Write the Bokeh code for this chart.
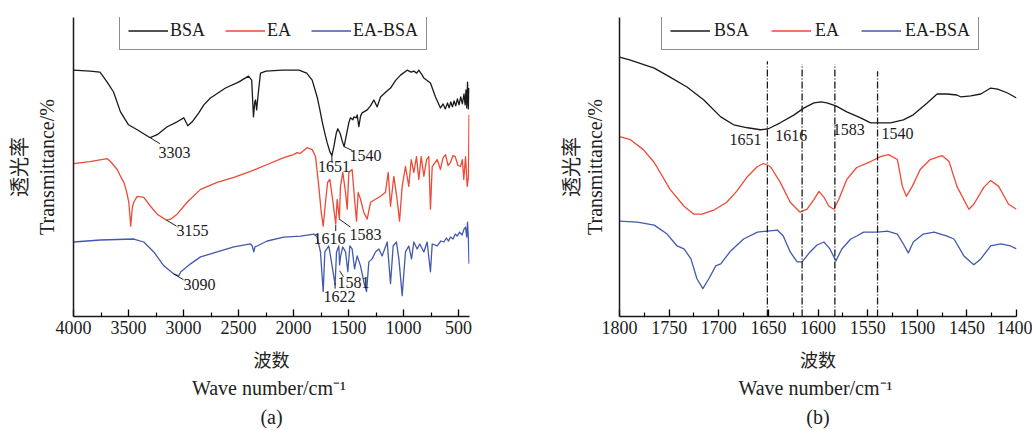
from bokeh.plotting import figure
from bokeh.models import Range1d, FixedTicker, LinearAxis, Legend, LegendItem
from bokeh.layouts import row
from bokeh.embed import file_html
from bokeh.resources import INLINE
from bokeh.core.properties import value

SERIF = "Liberation Serif"
CJK = "Noto Sans CJK SC"
BLACK = "#1a1a1a"
RED = "#ee4a36"
BLUE = "#4359ad"
TXT = "#222222"

# ---------------- panel (a): full spectra ----------------
bsa_a_wn = [4000, 3850, 3760, 3739, 3694, 3636, 3573, 3500, 3421, 3303, 3239, 3148, 3058, 2997, 2961, 2921, 2861, 2815, 2755, 2618, 2500, 2409, 2380, 2364, 2352, 2345, 2335, 2320, 2300, 2250, 2100, 1950, 1880, 1830, 1785, 1760, 1739, 1710, 1694, 1670, 1651, 1633, 1610, 1597, 1575, 1558, 1540, 1515, 1497, 1482, 1460, 1452, 1430, 1421, 1406, 1390, 1376, 1330, 1300, 1270, 1239, 1209, 1160, 1118, 1070, 1027, 967, 930, 906, 880, 861, 830, 815, 755, 709, 664, 640, 620, 600, 585, 570, 555, 540, 525, 510, 495, 480, 465, 450, 440, 432, 425, 418, 410, 404]
bsa_a_t = [248, 247, 246, 243, 236, 226, 206, 193, 188, 180, 183, 191, 196, 200, 192, 196, 205, 213, 220, 230, 236, 242, 238, 201, 216, 218, 208, 225, 245, 247, 248, 248, 245, 238, 221, 208, 196, 182, 175, 166, 162, 171, 185, 189, 184, 177, 171, 185, 195, 200, 198, 201, 200, 203, 191, 202, 205, 208, 212, 218, 211, 221, 226, 230, 238, 243, 248, 246, 247, 245, 248, 243, 240, 235, 221, 210, 214, 209, 215, 210, 216, 211, 217, 212, 219, 213, 221, 214, 224, 213, 228, 210, 236, 209, 230]

ea_a_wn = [4000, 3850, 3694, 3664, 3603, 3558, 3542, 3518, 3497, 3480, 3465, 3452, 3421, 3361, 3300, 3239, 3155, 3118, 3058, 2967, 2845, 2694, 2542, 2391, 2239, 2088, 2000, 1967, 1940, 1876, 1830, 1800, 1770, 1748, 1730, 1709, 1690, 1670, 1648, 1616, 1603, 1583, 1573, 1552, 1527, 1512, 1497, 1467, 1445, 1427, 1412, 1391, 1361, 1330, 1300, 1255, 1209, 1164, 1139, 1118, 1088, 1058, 1036, 1012, 982, 952, 930, 906, 882, 861, 839, 815, 790, 770, 755, 739, 694, 664, 640, 618, 595, 573, 550, 530, 505, 482, 465, 452, 436, 421, 410, 404]
ea_a_t = [154, 156, 159, 156, 148, 138, 135, 126, 115, 91, 110, 115, 121, 120, 111, 103, 97, 98, 103, 115, 128, 135, 140, 146, 153, 160, 163, 165, 164, 170, 168, 161, 131, 105, 91, 115, 135, 138, 121, 93, 118, 98, 131, 145, 125, 108, 145, 148, 118, 96, 125, 118, 105, 98, 115, 118, 121, 125, 145, 111, 141, 118, 96, 131, 151, 131, 158, 145, 161, 138, 161, 141, 158, 161, 108, 151, 158, 148, 160, 163, 152, 155, 162, 161, 152, 151, 158, 138, 161, 131, 140, 203]

eabsa_a_wn = [4000, 3755, 3452, 3361, 3270, 3179, 3090, 3042, 3025, 3012, 2936, 2845, 2694, 2542, 2391, 2375, 2361, 2350, 2330, 2239, 2088, 1936, 1815, 1785, 1755, 1730, 1715, 1679, 1655, 1622, 1609, 1588, 1581, 1573, 1552, 1527, 1506, 1488, 1467, 1445, 1421, 1391, 1361, 1336, 1315, 1285, 1255, 1224, 1194, 1148, 1118, 1094, 1064, 1042, 1012, 982, 952, 927, 906, 876, 852, 815, 785, 755, 739, 694, 660, 633, 610, 590, 573, 550, 530, 512, 490, 467, 450, 436, 425, 418, 410, 404]
eabsa_a_t = [75, 77, 78, 75, 65, 51, 43, 41, 45, 46, 53, 60, 65, 70, 73, 71, 65, 70, 71, 76, 80, 81, 83, 80, 65, 25, 65, 71, 55, 32, 65, 71, 52, 60, 70, 65, 45, 71, 68, 48, 61, 51, 35, 25, 55, 58, 65, 68, 61, 75, 33, 71, 75, 58, 21, 65, 71, 58, 75, 68, 73, 65, 75, 45, 73, 71, 76, 75, 79, 76, 80, 78, 83, 81, 85, 82, 88, 90, 80, 95, 78, 53]

a_ticks = [4000, 3500, 3000, 2500, 2000, 1500, 1000, 500]
a_minor = [3750, 3250, 2750, 2250, 1750, 1250, 750]

# peak annotations (a): peak position, label text
a_peak_wn = [3303, 1651, 1540, 3155, 1616, 1583, 3090, 1622, 1581]
a_peak_t = [180, 162, 171, 97, 92, 98, 43, 34, 46]
a_peak_txt = ["3303", "1651", "1540", "3155", "1616", "1583", "3090", "1622", "1581"]
# label anchor and leader-line end
a_lab_wn = [3082, 1632, 1345, 2918, 1673, 1345, 2855, 1582, 1455]
a_lab_t = [165, 151, 162, 87, 79, 83, 32, 20, 34]
a_lead_wn = [3215, 1651, 1464, 3064, 1616, 1482, 3000, 1622, 1545]
a_lead_t = [174, 155, 167, 91, 86, 90, 37, 28, 40]

# ---------------- panel (b): amide region ----------------
bsa_b_wn = [1800, 1789, 1765, 1749, 1732, 1715, 1698, 1685, 1671, 1658, 1650, 1638, 1624, 1614, 1604, 1597, 1591, 1582, 1571, 1557, 1547, 1539, 1527, 1514, 1504, 1490, 1480, 1470, 1460, 1456, 1446, 1436, 1426, 1419, 1409, 1400]
bsa_b_t = [261, 258, 250, 241, 231, 218, 201, 193, 190, 188, 189, 195, 203, 210, 215, 216, 215, 212, 206, 200, 195, 195, 195, 198, 203, 215, 224, 224, 223, 221, 222, 224, 230, 229, 225, 220]

ea_b_wn = [1800, 1789, 1776, 1765, 1749, 1735, 1725, 1717, 1705, 1692, 1682, 1671, 1661, 1655, 1648, 1638, 1628, 1618, 1611, 1604, 1599, 1594, 1589, 1584, 1579, 1571, 1561, 1547, 1537, 1529, 1520, 1515, 1511, 1505, 1497, 1487, 1475, 1468, 1460, 1448, 1443, 1433, 1426, 1418, 1408, 1400]
ea_b_t = [181, 178, 168, 155, 128, 111, 103, 103, 107, 115, 126, 141, 151, 154, 151, 135, 115, 105, 108, 118, 126, 120, 111, 108, 118, 138, 150, 156, 161, 163, 158, 131, 121, 131, 148, 158, 162, 156, 131, 108, 113, 130, 137, 131, 113, 108]

eabsa_b_wn = [1800, 1782, 1765, 1752, 1742, 1735, 1728, 1722, 1716, 1710, 1703, 1698, 1688, 1675, 1661, 1651, 1641, 1635, 1628, 1621, 1616, 1608, 1601, 1594, 1588, 1582, 1576, 1567, 1561, 1554, 1540, 1530, 1520, 1514, 1509, 1504, 1494, 1483, 1470, 1463, 1453, 1443, 1436, 1426, 1416, 1406, 1400]
eabsa_b_t = [96, 95, 92, 83, 71, 68, 58, 38, 28, 38, 51, 53, 66, 78, 85, 86, 87, 81, 65, 55, 55, 65, 72, 75, 68, 56, 68, 78, 81, 85, 85, 86, 83, 73, 64, 75, 83, 85, 81, 78, 61, 52, 58, 71, 73, 71, 68]

b_ticks = [1800, 1750, 1700, 1650, 1600, 1550, 1500, 1450, 1400]
b_minor = [1775, 1725, 1675, 1625, 1575, 1525, 1475, 1425]

b_mark_wn = [1651, 1616, 1583, 1540]
b_mark_top = [257, 254, 254, 247]
b_mark_txt = ["1651", "1616", "1583", "1540"]
b_lab_wn = [1673, 1627, 1569, 1520]
b_lab_t = [178, 182, 188, 184]

NAMES = ["BSA", "EA", "EA-BSA"]
X_LABELS = ["波数", "Wave  number/cm⁻¹"]
Y_LABELS = ["Transmittance/%", "透光率"]


def label_axis(text, font, size, standoff):
    ax = LinearAxis(ticker=FixedTicker(ticks=[]), axis_line_color=None,
                    major_tick_in=0, major_tick_out=0, minor_tick_in=0, minor_tick_out=0,
                    major_label_standoff=0, axis_label=text,
                    axis_label_text_font=font, axis_label_text_font_size=size,
                    axis_label_text_font_style="normal", axis_label_text_color=TXT,
                    axis_label_standoff=standoff)
    return ax


def make_panel(xr, ticks, minor, left, right, series, legend_x, tag, spacing, standoff,
               y_std, cjk_std):
    p = figure(width=516, height=430, x_range=Range1d(*xr), y_range=Range1d(0, 301),
               output_backend="svg", toolbar_location=None,
               min_border_left=left, min_border_right=right,
               min_border_top=17, min_border_bottom=112)
    p.outline_line_color = None
    p.grid.visible = False
    p.background_fill_color = "white"
    p.border_fill_color = "white"

    xa = p.xaxis[0]
    xa.ticker = FixedTicker(ticks=ticks, minor_ticks=minor)
    xa.axis_line_width = 1.5
    xa.axis_line_color = BLACK
    xa.major_tick_in = 7
    xa.major_tick_out = 0
    xa.minor_tick_in = 4
    xa.minor_tick_out = 0
    xa.major_tick_line_width = 1.3
    xa.minor_tick_line_width = 1.2
    xa.major_label_text_font = SERIF
    xa.major_label_text_font_size = "18px"
    xa.major_label_text_color = BLACK
    xa.major_label_standoff = 4
    xa.axis_label = X_LABELS[0]
    xa.axis_label_text_font = CJK
    xa.axis_label_text_font_size = "18px"
    xa.axis_label_text_font_style = "normal"
    xa.axis_label_text_color = TXT
    xa.axis_label_standoff = 9
    p.add_layout(label_axis(X_LABELS[1], SERIF, "20px", 2), "below")
    p.add_layout(label_axis(tag, SERIF, "20px", 4), "below")

    ya = p.yaxis[0]
    ya.ticker = FixedTicker(ticks=[])
    ya.axis_line_width = 1.5
    ya.axis_line_color = BLACK
    ya.major_tick_out = 0
    ya.major_tick_in = 0
    ya.minor_tick_out = 0
    ya.major_label_standoff = 0
    ya.axis_label = Y_LABELS[0]
    ya.axis_label_text_font = SERIF
    ya.axis_label_text_font_size = "20px"
    ya.axis_label_text_font_style = "normal"
    ya.axis_label_text_color = TXT
    ya.axis_label_standoff = y_std
    p.add_layout(label_axis(Y_LABELS[1], CJK, "20px", cjk_std), "left")

    colors = [BLACK, RED, BLUE]
    items = []
    for (wn, t), c, n in zip(series, colors, NAMES):
        r = p.line(wn, t, line_color=c, line_width=1.3, line_join="round")
        items.append(LegendItem(label=n, renderers=[r]))

    lg = Legend(items=items, orientation="horizontal", location=(legend_x, 266),
                label_text_font=SERIF, label_text_font_size="18px", label_text_color=BLACK,
                glyph_width=40, glyph_height=19, label_height=19, label_standoff=standoff,
                spacing=spacing, padding=8, margin=0,
                border_line_color=BLACK, border_line_width=1.3,
                background_fill_color="white", background_fill_alpha=1.0)
    p.add_layout(lg)
    return p


pa = make_panel((4000, 400), a_ticks, a_minor, 73, 47,
                [(bsa_a_wn, bsa_a_t), (ea_a_wn, ea_a_t), (eabsa_a_wn, eabsa_a_t)],
                46, "(a)", 20, 2, 16, 0)
pa.segment(x0=a_peak_wn, y0=a_peak_t, x1=a_lead_wn, y1=a_lead_t,
           line_color=BLACK, line_width=1)
pa.text(x=a_lab_wn, y=a_lab_t, text=a_peak_txt, text_font=value(SERIF),
        text_font_size="16px", text_color=BLACK, text_align="center", text_baseline="middle")

pb = make_panel((1800, 1400), b_ticks, b_minor, 103, 16,
                [(bsa_b_wn, bsa_b_t), (ea_b_wn, ea_b_t), (eabsa_b_wn, eabsa_b_t)],
                42, "(b)", 22, 4, 14, -4)
pb.segment(x0=b_mark_wn, y0=[0] * len(b_mark_wn), x1=b_mark_wn, y1=b_mark_top,
           line_color=BLACK, line_width=1.3, line_dash="7 2 1 2")
pb.text(x=b_lab_wn, y=b_lab_t, text=b_mark_txt, text_font=value(SERIF),
        text_font_size="16px", text_color=BLACK, text_align="center", text_baseline="middle")

layout = row(pa, pb)
open("out.html", "w").write(file_html(layout, INLINE))
